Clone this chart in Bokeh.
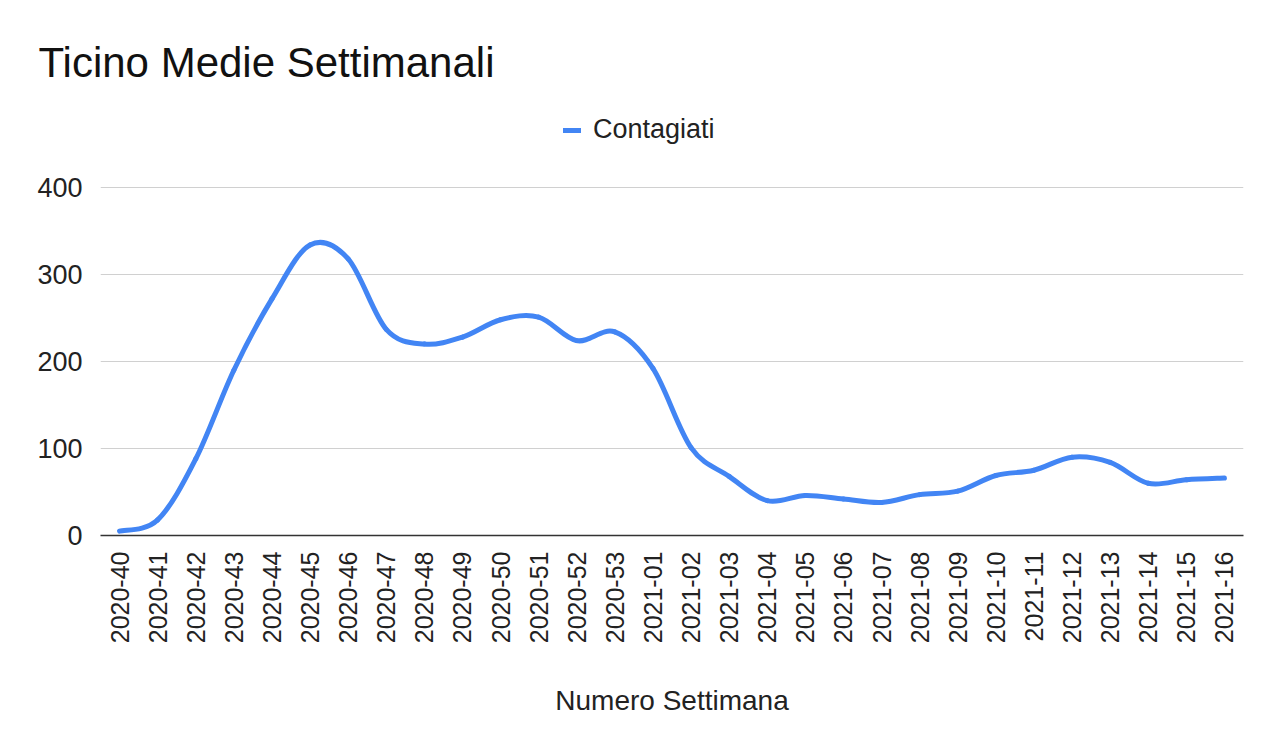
import math
from bokeh.plotting import figure
from bokeh.models import Range1d, FixedTicker, Legend, LegendItem, Title, ColumnDataSource
from bokeh.embed import file_html
from bokeh.resources import INLINE

weeks = ["2020-40", "2020-41", "2020-42", "2020-43", "2020-44", "2020-45", "2020-46",
         "2020-47", "2020-48", "2020-49", "2020-50", "2020-51", "2020-52", "2020-53",
         "2021-01", "2021-02", "2021-03", "2021-04", "2021-05", "2021-06", "2021-07",
         "2021-08", "2021-09", "2021-10", "2021-11", "2021-12", "2021-13", "2021-14",
         "2021-15", "2021-16"]
contagiati = [5, 18, 88, 190, 272, 334, 318, 237, 220, 228, 248, 251, 224, 234, 192,
              101, 68, 40, 46, 42, 38, 47, 51, 69, 75, 90, 84, 60, 64, 66]
y_ticks = [0, 100, 200, 300, 400]

FONT = "Liberation Sans"
TXT = "#222222"
BLUE = "#4285F4"

# layout (pixels)
W, H = 1264, 738
TOP, BOTTOM, LEFT, RIGHT = 110, 203, 100, 21
AXIS_TOP_PX = 187          # where the 400 gridline sits
frame_h = H - TOP - BOTTOM
y_max = 400 * frame_h / (H - BOTTOM - AXIS_TOP_PX)   # headroom for title/legend

n = len(weeks)
xs = list(range(n))

# smooth curve: cubic Bezier segments through each data point (Catmull-Rom tangents)
seg = dict(x0=[], y0=[], x1=[], y1=[], cx0=[], cy0=[], cx1=[], cy1=[])
for i in range(n - 1):
    a, b, c, d = max(i - 1, 0), i, i + 1, min(i + 2, n - 1)
    seg["x0"].append(xs[b]); seg["y0"].append(contagiati[b])
    seg["x1"].append(xs[c]); seg["y1"].append(contagiati[c])
    seg["cx0"].append(xs[b] + (xs[c] - xs[a]) / 6.0)
    seg["cy0"].append(contagiati[b] + (contagiati[c] - contagiati[a]) / 6.0)
    seg["cx1"].append(xs[c] - (xs[d] - xs[b]) / 6.0)
    seg["cy1"].append(contagiati[c] - (contagiati[d] - contagiati[b]) / 6.0)
src = ColumnDataSource(seg)

p = figure(width=W, height=H, output_backend="svg", toolbar_location=None,
           x_range=Range1d(-0.5, n - 0.5), y_range=Range1d(0, y_max),
           min_border_left=LEFT, min_border_right=RIGHT, min_border_top=TOP,
           min_border_bottom=BOTTOM, background_fill_color="white",
           border_fill_color="white")
p.outline_line_color = None

r = p.bezier(x0="x0", y0="y0", x1="x1", y1="y1", cx0="cx0", cy0="cy0",
             cx1="cx1", cy1="cy1", source=src, line_color=BLUE, line_width=5,
             line_cap="round")

# axes
p.xaxis.ticker = FixedTicker(ticks=xs)
p.xaxis.major_label_overrides = {i: w for i, w in enumerate(weeks)}
p.xaxis.major_label_orientation = math.pi / 2
p.xaxis.major_label_text_font = FONT
p.xaxis.major_label_text_font_size = "25px"
p.xaxis.major_label_text_color = TXT
p.xaxis.major_label_standoff = 10
p.xaxis.major_tick_line_color = None
p.xaxis.minor_tick_line_color = None
p.xaxis.axis_line_color = "#333333"
p.xaxis.axis_line_width = 1.5
p.xaxis.axis_label = "Numero Settimana"
p.xaxis.axis_label_text_font = FONT
p.xaxis.axis_label_text_font_size = "28px"
p.xaxis.axis_label_text_font_style = "normal"
p.xaxis.axis_label_text_color = TXT
p.xaxis.axis_label_standoff = 39

p.yaxis.ticker = FixedTicker(ticks=y_ticks)
p.yaxis.major_label_text_font = FONT
p.yaxis.major_label_text_font_size = "27px"
p.yaxis.major_label_text_color = TXT
p.yaxis.major_label_standoff = 12
p.yaxis.major_tick_line_color = None
p.yaxis.minor_tick_line_color = None
p.yaxis.axis_line_color = None

p.xgrid.grid_line_color = None
p.ygrid.grid_line_color = "#d0d0d0"
p.ygrid.grid_line_width = 1

# legend (inside the frame's headroom, above the 400 gridline)
legend = Legend(items=[LegendItem(label="Contagiati", renderers=[r])],
                location=(463, 535 - 145), orientation="horizontal",
                label_text_font=FONT, label_text_font_size="27px",
                label_text_color=TXT, glyph_width=18, glyph_height=30,
                label_height=30, label_standoff=12, padding=0, margin=0,
                border_line_color=None, background_fill_alpha=0)
p.add_layout(legend)

# title
title = Title(text="Ticino Medie Settimanali", text_font=FONT,
              text_font_size="42px", text_font_style="normal",
              text_color="#111111", align="left", offset=-62, standoff=49)
p.add_layout(title, "above")

open("out.html", "w").write(file_html(p, INLINE))
